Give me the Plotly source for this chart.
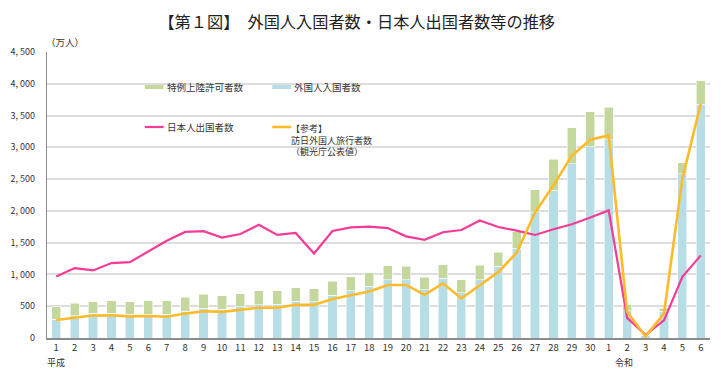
import plotly.graph_objects as go

# ---- data (万人) ----
era_labels = ["平成"] + [""] * 29 + ["令和"] + [""] * 5
tick_labels = [str(i) for i in range(1, 31)] + [str(i) for i in range(1, 7)]

foreign_entries = [298, 350, 386, 393, 371, 375, 373, 424, 467, 456, 490, 527, 529, 577, 573,
                   676, 745, 811, 915, 915, 758, 944, 713, 917, 1126, 1415, 1969, 2322, 2743,
                   3010, 3119, 431, 35, 420, 2583, 3678]
special_landing = [197, 197, 187, 196, 202, 214, 216, 217, 221, 211, 208, 218, 216, 210, 203,
                   215, 215, 217, 218, 213, 197, 205, 200, 227, 227, 258, 360, 490, 562,
                   547, 511, 94, 12, 52, 171, 372]
japanese_departures = [966, 1100, 1063, 1179, 1193, 1358, 1530, 1669, 1680, 1581, 1636, 1782,
                       1622, 1652, 1330, 1683, 1740, 1753, 1729, 1599, 1545, 1664, 1699, 1849,
                       1747, 1690, 1621, 1712, 1789, 1895, 2008, 317, 51, 277, 962, 1300]
visitor_arrivals = [284, 324, 353, 358, 341, 347, 335, 384, 422, 411, 444, 476, 477, 524, 521,
                    614, 673, 733, 835, 835, 679, 861, 622, 836, 1036, 1341, 1974, 2404, 2869,
                    3119, 3188, 412, 25, 383, 2507, 3687]
y_ticks = [0, 500, 1000, 1500, 2000, 2500, 3000, 3500, 4000, 4500]
y_tick_text = ["0", "500", "1, 000", "1, 500", "2, 000", "2, 500", "3, 000", "3, 500", "4, 000", "4, 500"]

x = list(range(len(tick_labels)))

# ---- styling ----
FONT = "Noto Sans CJK JP"
TXT = "#333333"
BLUE = "#b7dde7"
GREEN = "#c4d79c"
PINK = "#f43b96"
ORANGE = "#fdbb2a"

W, H = 721, 370
L, R, T, B = 39, 11, 52, 32
pw, ph = W - L - R, H - T - B


def px(v):
    return (v - L) / pw


def py(v):
    return (H - B - v) / ph


fig = go.Figure()
fig.add_trace(go.Bar(x=x, y=foreign_entries, name="外国人入国者数", marker_color=BLUE,
                     marker_line=dict(color="rgba(255,255,255,0.7)", width=0.8), showlegend=False))
fig.add_trace(go.Bar(x=x, y=special_landing, name="特例上陸許可者数", marker_color=GREEN,
                     marker_line=dict(color="rgba(255,255,255,0.7)", width=0.8), showlegend=False))
fig.add_trace(go.Scatter(x=x, y=japanese_departures, mode="lines", name="日本人出国者数",
                         line=dict(color=PINK, width=2.2), showlegend=False))
fig.add_trace(go.Scatter(x=x, y=visitor_arrivals, mode="lines", name="訪日外国人旅行者数",
                         line=dict(color=ORANGE, width=2.6), showlegend=False))

shapes = [
    dict(type="rect", xref="paper", yref="paper", x0=px(138), x1=px(157), y0=py(89), y1=py(85),
         fillcolor=GREEN, line_width=0),
    dict(type="rect", xref="paper", yref="paper", x0=px(267), x1=px(286), y0=py(89), y1=py(85),
         fillcolor=BLUE, line_width=0),
    dict(type="line", xref="paper", yref="paper", x0=px(138), x1=px(157), y0=py(127), y1=py(127),
         line=dict(color=PINK, width=2.2)),
    dict(type="line", xref="paper", yref="paper", x0=px(267), x1=px(286), y0=py(127), y1=py(127),
         line=dict(color=ORANGE, width=2.6)),
]

ann_font = dict(family=FONT, size=9.5, color=TXT)
annotations = [
    dict(text="特例上陸許可者数", x=px(158), y=py(87), xanchor="left", yanchor="middle"),
    dict(text="外国人入国者数", x=px(287), y=py(87), xanchor="left", yanchor="middle"),
    dict(text="日本人出国者数", x=px(158), y=py(127), xanchor="left", yanchor="middle"),
    dict(text="【参考】<br>訪日外国人旅行者数<br>（観光庁公表値）", x=px(284), y=py(120),
         xanchor="left", yanchor="top", align="left",
         font=dict(family=FONT, size=9, color=TXT)),
    dict(text="（万人）", x=px(36), y=py(42), xanchor="left", yanchor="middle"),
]
for a in annotations:
    a.update(xref="paper", yref="paper", showarrow=False)
    a.setdefault("font", ann_font)

for i, lab in enumerate(era_labels):
    if lab:
        xi = i if lab == "平成" else i + 0.85
        annotations.append(dict(text=lab, x=xi, xref="x", y=py(362), yref="paper",
                                showarrow=False, xanchor="center", yanchor="middle",
                                font=dict(family=FONT, size=9, color=TXT)))

fig.update_layout(
    width=W, height=H,
    margin=dict(l=L, r=R, t=T, b=B, pad=0),
    paper_bgcolor="white", plot_bgcolor="white",
    barmode="stack", bargap=0.5,
    font=dict(family=FONT, size=9.5, color=TXT),
    title=dict(text="【第１図】　外国人入国者数・日本人出国者数等の推移",
               x=px(371), xanchor="center", y=1 - 22 / H, yanchor="middle",
               font=dict(family=FONT, size=16.2, color="#222222")),
    shapes=shapes,
    annotations=annotations,
    xaxis=dict(range=[-0.5, len(x) - 0.5], tickmode="array", tickvals=x, ticktext=tick_labels,
               showgrid=False, showline=True, linecolor="#8c8c8c", linewidth=1.5,
               ticks="", ticklabelstandoff=0, tickfont=dict(family=FONT, size=9.5, color=TXT),
               zeroline=False, fixedrange=True),
    yaxis=dict(range=[0, 4500], tickmode="array", tickvals=y_ticks, ticktext=y_tick_text,
               showgrid=True, gridcolor="#dddddd", gridwidth=1.5,
               showline=True, linecolor="#8c8c8c", linewidth=1.2,
               ticks="", ticklabelstandoff=9, zeroline=False,
               tickfont=dict(family=FONT, size=9, color=TXT), fixedrange=True),
)

fig.write_html("out.html", config={"displayModeBar": False},
               post_script="document.body.style.margin='0';")
